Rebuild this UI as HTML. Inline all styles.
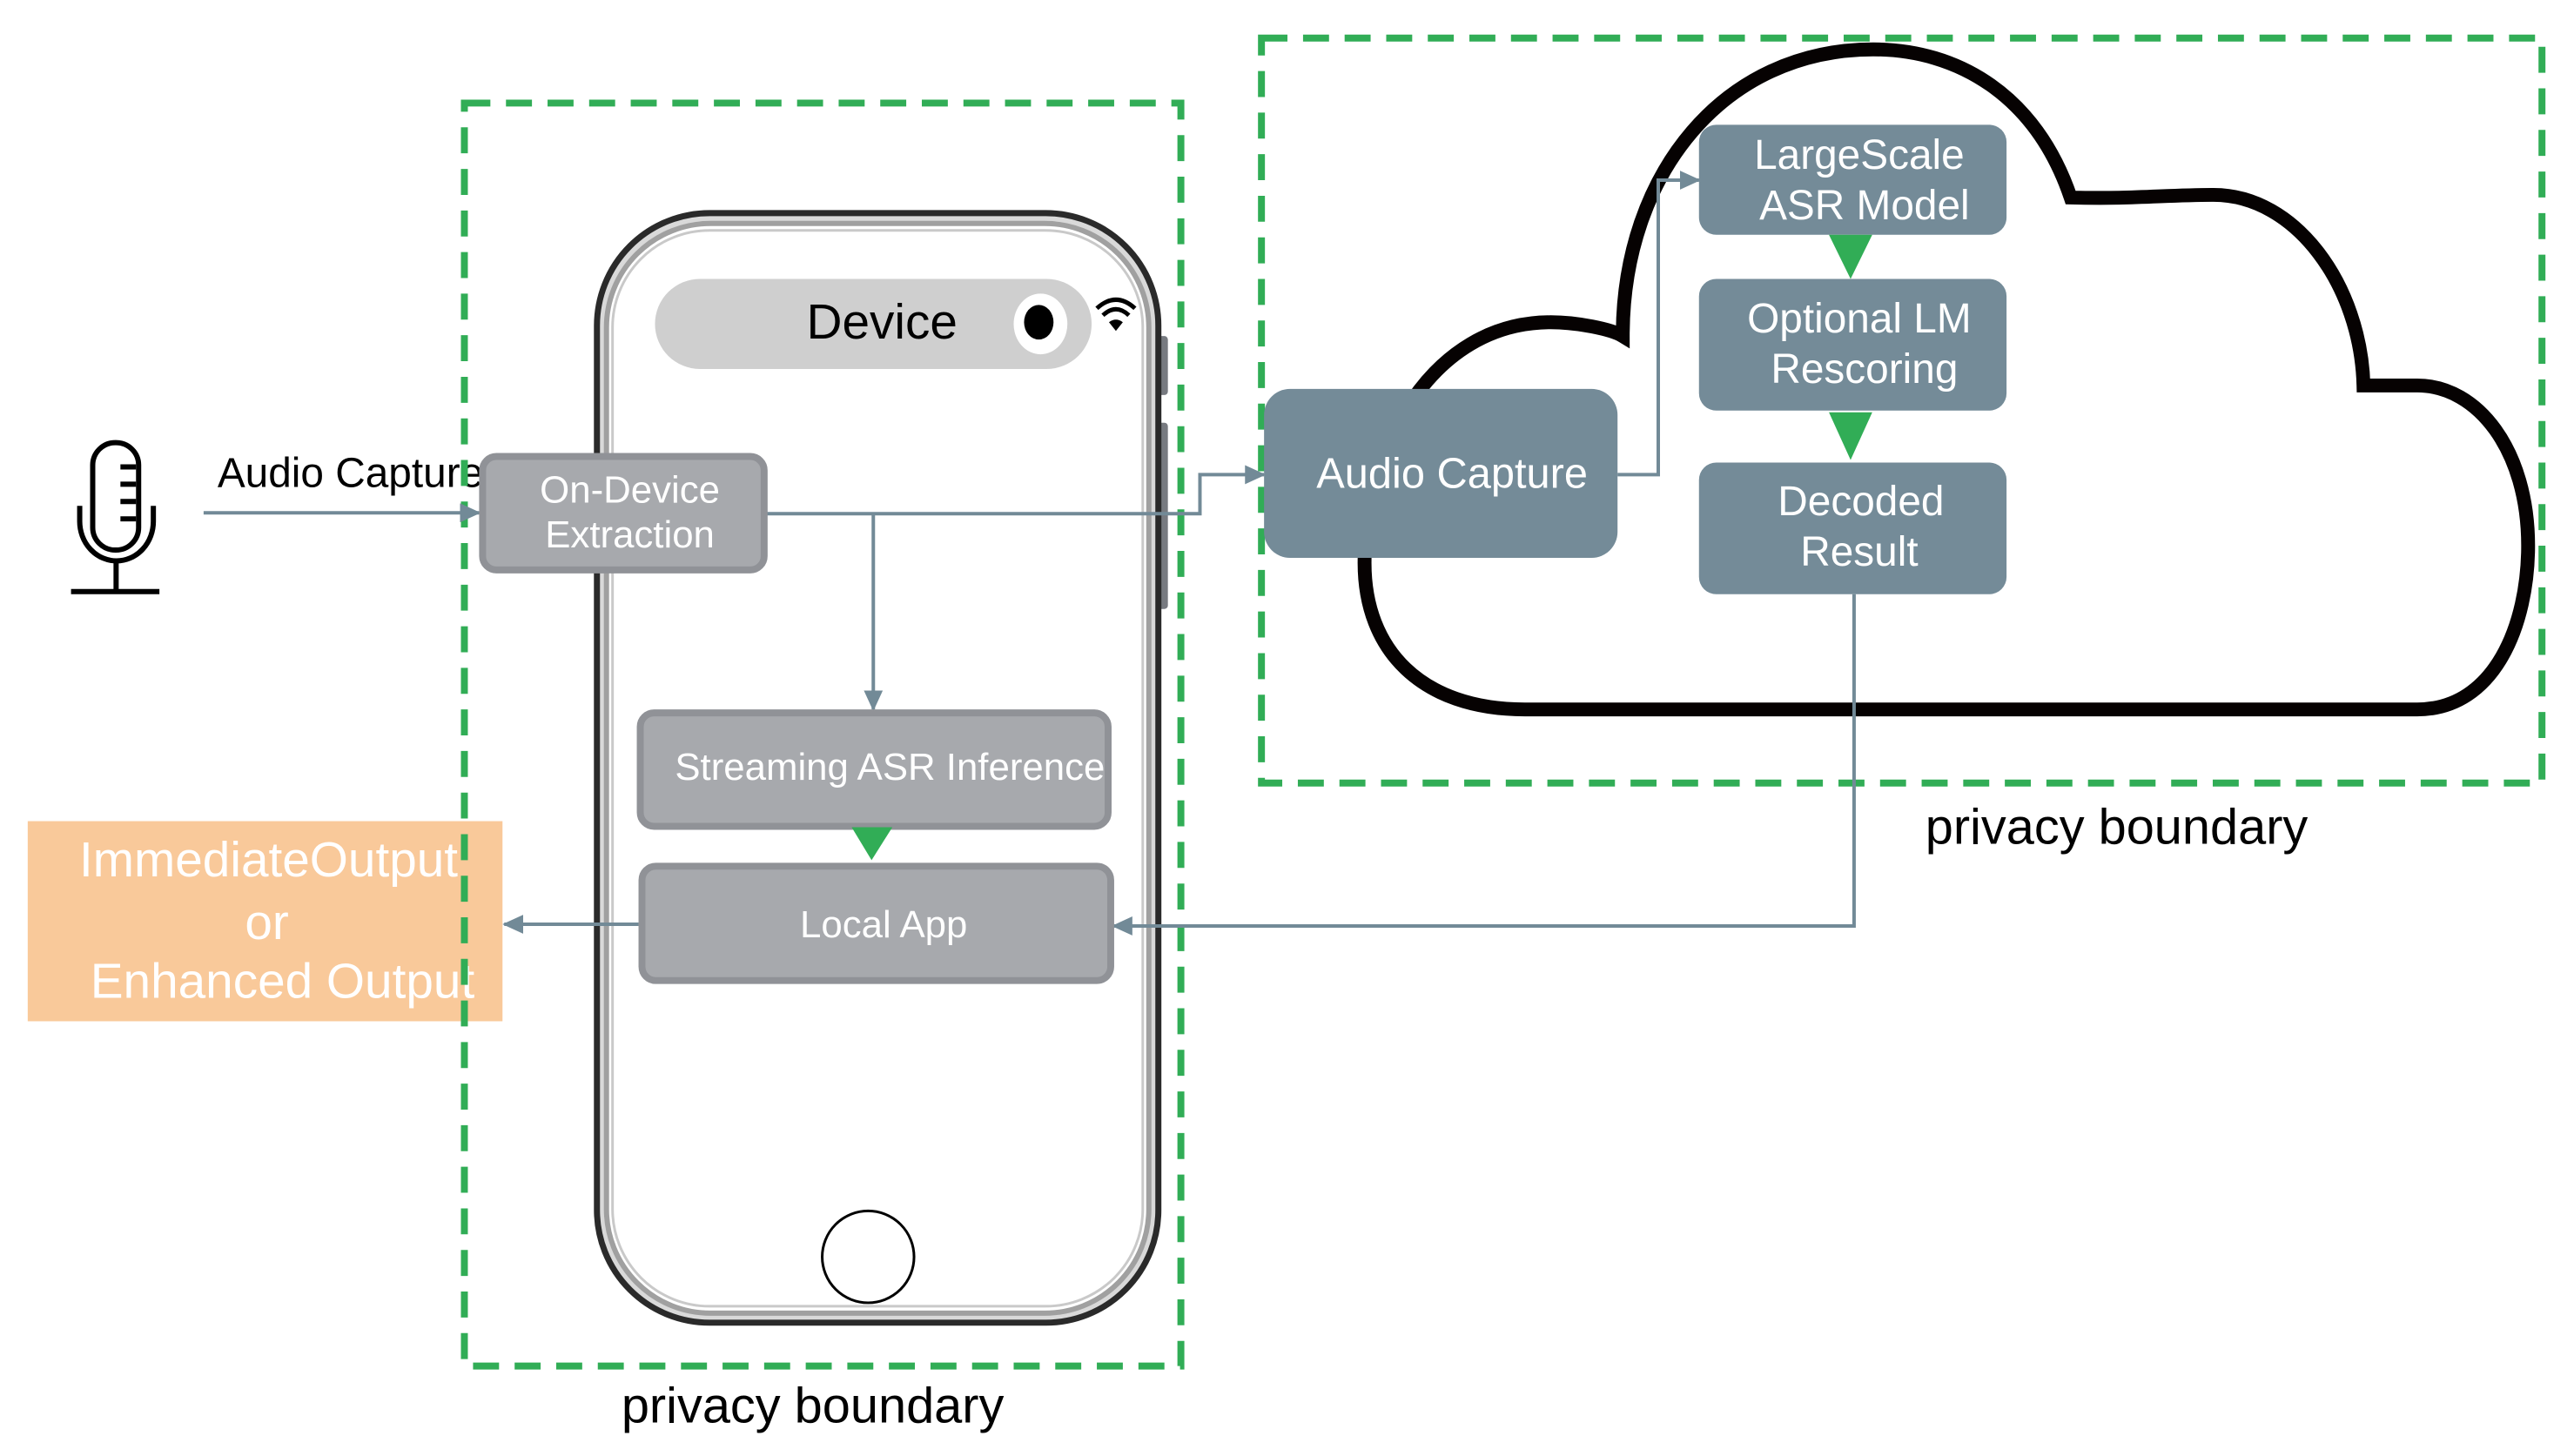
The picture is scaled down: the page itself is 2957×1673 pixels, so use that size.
<!DOCTYPE html>
<html><head><meta charset="utf-8"><style>
html,body{margin:0;padding:0;background:#fff;}
svg{display:block;}
text{font-family:"Liberation Sans",Arial,sans-serif;}
</style></head><body>
<svg width="2957" height="1673" viewBox="0 0 2957 1673" xmlns="http://www.w3.org/2000/svg">
<defs>
<marker id="ah2" markerWidth="24" markerHeight="22" refX="22" refY="11" orient="auto" markerUnits="userSpaceOnUse" viewBox="0 0 24 22">
<path d="M0,0 L24,11 L0,22 z" fill="#728a97"/></marker>
</defs>
<g transform="scale(0.9953)">
<!-- Cloud -->
<path d="M1760,819 L2790,819 C2880,819 2918,720 2918,630 C2918,520 2860,445 2790,445 L2728,445 C2725,330 2650,225 2555,225 C2500,225 2460,230 2390,228 C2350,110 2260,57 2162,57 C1990,57 1873,200 1873,388 C1860,380 1820,372 1790,372 C1650,372 1575,520 1575,650 C1575,750 1640,819 1760,819 Z" fill="#fff" stroke="#060202" stroke-width="16" stroke-linejoin="miter"/>

<!-- Phone -->
<rect x="1336" y="388" width="12" height="68" rx="4" fill="#777a80"/>
<rect x="1336" y="488" width="12" height="215" rx="4" fill="#777a80"/>
<rect x="689" y="246" width="648" height="1281" rx="130" fill="#d9d9d9" stroke="#2a2a2a" stroke-width="7"/>
<rect x="700" y="258" width="626" height="1258" rx="120" fill="#fff" stroke="#a0a0a0" stroke-width="6"/>
<rect x="707" y="266" width="612" height="1242" rx="112" fill="#fff" stroke="#c9c9c9" stroke-width="3"/>
<rect x="756" y="322" width="504" height="104" rx="52" fill="#cfcfcf"/>
<text x="1018" y="391" font-size="57" text-anchor="middle" fill="#000">Device</text>
<ellipse cx="1201" cy="374" rx="31" ry="35" fill="#fff"/>
<ellipse cx="1199" cy="372" rx="17" ry="20" fill="#000"/>
<g fill="none" stroke="#000" stroke-width="5">
<path d="M1266,356 Q1288,336 1310,356"/>
<path d="M1273,364 Q1288,350 1303,364"/>
</g>
<path d="M1280,372 L1288,382 L1296,372 Q1288,366 1280,372 Z" fill="#000"/>
<circle cx="1002" cy="1451" r="53" fill="#fff" stroke="#000" stroke-width="3"/>

<!-- Mic -->
<g fill="none" stroke="#000" stroke-width="6">
<rect x="107" y="511" width="53" height="124" rx="26"/>
<path d="M92,584 L92,602 A42,45 0 0 0 177,602 L177,584"/>
<line x1="134" y1="647" x2="134" y2="683"/>
<line x1="82" y1="683" x2="184" y2="683"/>
<line x1="139" y1="539" x2="157" y2="539"/>
<line x1="139" y1="559" x2="157" y2="559"/>
<line x1="139" y1="579" x2="157" y2="579"/>
<line x1="139" y1="599" x2="157" y2="599"/>
</g>
<text x="251" y="562" font-size="48" fill="#000">Audio Capture</text>

<!-- Orange output -->
<rect x="32" y="948" width="548" height="231" fill="#f9c99a"/>
<g font-size="57" fill="#fff" text-anchor="middle">
<text x="310" y="1012">ImmediateOutput</text>
<text x="308" y="1084">or</text>
<text x="326" y="1152">Enhanced Output</text>
</g>

<!-- Dashed boxes -->
<rect x="536" y="119" width="827" height="1458" fill="none" stroke="#31ad56" stroke-width="8" stroke-dasharray="30 18"/>
<rect x="1456" y="44" width="1478" height="860" fill="none" stroke="#31ad56" stroke-width="8" stroke-dasharray="30 18"/>

<!-- connectors -->
<g fill="none" stroke="#728a97" stroke-width="4">
<line x1="235" y1="592" x2="553" y2="592" marker-end="url(#ah2)"/>
<polyline points="885,593 1385,593 1385,548 1459,548" marker-end="url(#ah2)"/>
<line x1="1008" y1="593" x2="1008" y2="819" marker-end="url(#ah2)"/>
<line x1="737" y1="1067" x2="582" y2="1067" marker-end="url(#ah2)"/>
<polyline points="2140,686 2140,1069 1285,1069" marker-end="url(#ah2)"/>
<polyline points="1867,548 1914,548 1914,208 1961,208" marker-end="url(#ah2)"/>
</g>

<!-- gray boxes -->
<rect x="557" y="527" width="325" height="131" rx="16" fill="#a7a9ad" stroke="#909297" stroke-width="8"/>
<g font-size="44" fill="#fff" text-anchor="middle">
<text x="727" y="580">On-Device</text>
<text x="727" y="632">Extraction</text>
</g>
<rect x="739" y="823" width="540" height="131" rx="16" fill="#a7a9ad" stroke="#909297" stroke-width="8"/>
<text x="779" y="900" font-size="44" fill="#fff">Streaming ASR Inference</text>
<rect x="741" y="1000" width="541" height="132" rx="16" fill="#a7a9ad" stroke="#909297" stroke-width="8"/>
<text x="1020" y="1082" font-size="44" fill="#fff" text-anchor="middle">Local App</text>
<path d="M983,955 L1030,955 L1006,993 Z" fill="#31ad56"/>

<!-- cloud boxes -->
<rect x="1459" y="449" width="408" height="195" rx="30" fill="#748b98"/>
<text x="1676" y="563" font-size="49" fill="#fff" text-anchor="middle">Audio Capture</text>
<rect x="1961" y="144" width="355" height="127" rx="20" fill="#748b98"/>
<g font-size="48" fill="#fff" text-anchor="middle">
<text x="2146" y="195">LargeScale</text>
<text x="2152" y="253">ASR Model</text>
</g>
<rect x="1961" y="322" width="355" height="152" rx="20" fill="#748b98"/>
<g font-size="48" fill="#fff" text-anchor="middle">
<text x="2146" y="384">Optional LM</text>
<text x="2152" y="442">Rescoring</text>
</g>
<rect x="1961" y="534" width="355" height="152" rx="20" fill="#748b98"/>
<g font-size="48" fill="#fff" text-anchor="middle">
<text x="2148" y="595">Decoded</text>
<text x="2146" y="653">Result</text>
</g>
<path d="M2111,271 L2161,271 L2136,322 Z" fill="#31ad56"/>
<path d="M2111,476 L2161,476 L2136,531 Z" fill="#31ad56"/>

<!-- labels -->
<text x="2443" y="974" font-size="58" fill="#000" text-anchor="middle">privacy boundary</text>
<text x="938" y="1642" font-size="58" fill="#000" text-anchor="middle">privacy boundary</text>
</g>
</svg>
</body></html>
